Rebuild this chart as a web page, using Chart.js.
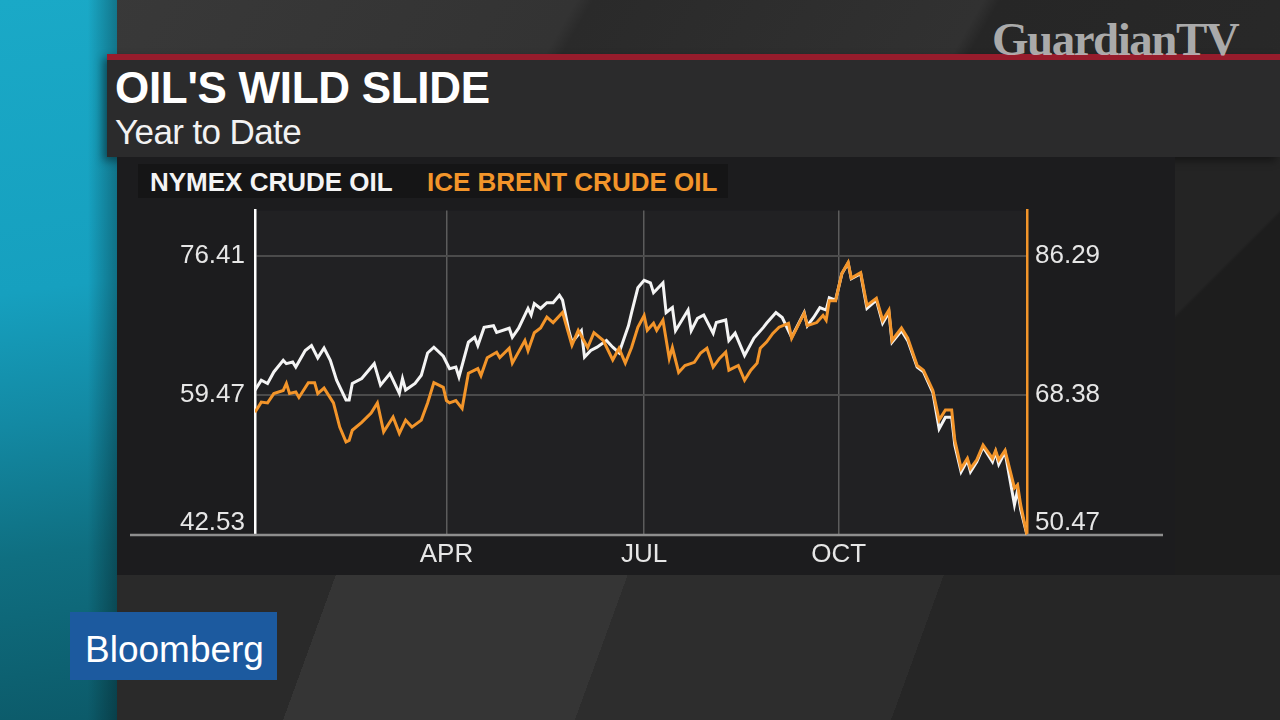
<!DOCTYPE html>
<html>
<head>
<meta charset="utf-8">
<script src="https://cdn.jsdelivr.net/npm/chart.js@4.4.1/dist/chart.umd.min.js"></script>
<style>
  body { margin: 0; width: 1280px; height: 720px; overflow: hidden; position: relative;
         background: linear-gradient(120deg, #3a3a3a 0%, #333 34%, #2a2a2a 35%, #313131 58%, #262626 59%, #2b2b2b 100%);
         font-family: "Liberation Sans", Arial, sans-serif; }
  .teal { position: absolute; left: 0; top: 0; width: 117px; height: 720px;
          background: linear-gradient(90deg, rgba(0,0,0,0) 75%, rgba(0,0,0,0.3)),
                      linear-gradient(172deg, #1aa9c7 0%, #16a0bf 40%, #1389a3 58%, #0f6f81 76%, #0c5a69 100%); }
  .rightside { position: absolute; left: 1175px; top: 157px; width: 105px; height: 418px;
               background: linear-gradient(135deg, #242424 0 30%, #1d1d1d 31% 100%); }
  .bottom { position: absolute; left: 117px; top: 575px; width: 1163px; height: 145px;
            background: linear-gradient(110deg, #2a2a2a 0 18%, #353535 18% 42%, #2d2d2d 42% 68%, #262626 68% 100%); }
  .header { position: absolute; left: 107px; top: 54px; width: 1173px; height: 97px;
            background: #2b2b2c; border-top: 6px solid #971c2c; box-shadow: -4px 4px 8px rgba(0,0,0,0.4); }
  .panel { position: absolute; left: 117px; top: 157px; width: 1058px; height: 418px; background: #1c1c1e; }
  .legendbar { position: absolute; left: 138px; top: 164px; width: 590px; height: 34px; background: #151516; }
  .title { position: absolute; left: 115px; top: 66px; font-size: 44px; line-height: 1; font-weight: bold; color: #fff; letter-spacing: -0.3px; }
  .subtitle { position: absolute; left: 115px; top: 114px; font-size: 35px; line-height: 1; color: #f2f2f2; letter-spacing: -0.6px; }
  .leg { position: absolute; top: 169px; font-size: 26px; line-height: 1; font-weight: bold; }
  .logo { position: absolute; left: 70px; top: 612px; width: 207px; height: 68px; background: #1c5a9f; }
  .logo span { position: absolute; left: 15px; top: 19px; font-size: 37px; line-height: 1; color: #fff; }
  .wm { position: absolute; left: 992px; top: 16px; font-family: "Liberation Serif", serif; font-weight: bold;
        font-size: 47px; line-height: 1; letter-spacing: -1.5px; color: rgba(195,195,195,0.85); }
  #wrap { position: absolute; left: 130px; top: 185px; width: 1040px; height: 390px; }
</style>
</head>
<body>
<div class="teal"></div>
<div class="bottom"></div>
<div class="rightside"></div>
<div class="header"></div>
<div class="panel"></div>
<div class="legendbar"></div>
<div class="title">OIL'S WILD SLIDE</div>
<div class="subtitle">Year to Date</div>
<div class="leg" style="left:150px;color:#f4f4f4">NYMEX CRUDE OIL</div>
<div class="leg" style="left:427px;color:#f3952a">ICE BRENT CRUDE OIL</div>
<div class="logo"><span>Bloomberg</span></div>
<div class="wm">GuardianTV</div>
<div id="wrap"><canvas id="myChart"></canvas></div>
<script>
// trading-day index (0 = first session of the year) and closing prices
var wtiDays = [0, 2, 4, 6, 9, 10, 12, 13, 16, 18, 20, 22, 24, 26, 29, 30, 31, 34, 38, 40, 43, 46, 47, 48, 51, 53, 55, 57, 60, 62, 64, 65, 68, 70, 71, 73, 76, 77, 81, 82, 84, 87, 88, 89, 91, 93, 95, 97, 98, 100, 101, 104, 105, 107, 109, 112, 114, 116, 119, 120, 122, 124, 126, 127, 130, 131, 133, 134, 138, 139, 141, 143, 146, 147, 150, 151, 153, 154, 156, 159, 162, 163, 166, 168, 171, 175, 176, 178, 180, 182, 183, 185, 187, 189, 190, 193, 195, 198, 200, 202, 203, 206, 208, 211, 213, 216, 218, 220, 222, 223, 225, 227, 228, 230, 232, 235, 236, 237, 239, 242, 243, 244, 246];
var wtiPrices = [60.1, 61.3, 60.9, 62.3, 63.7, 63.3, 63.5, 62.9, 64.9, 65.5, 64.0, 65.2, 63.7, 61.3, 58.9, 58.9, 60.9, 61.5, 63.3, 60.7, 62.1, 59.7, 61.5, 60.1, 60.9, 61.9, 64.6, 65.3, 64.2, 62.7, 62.9, 61.7, 65.9, 66.5, 65.5, 67.7, 67.9, 67.1, 67.6, 66.5, 67.6, 70.0, 69.2, 70.6, 70.0, 70.7, 70.7, 71.6, 71.0, 67.3, 65.9, 67.3, 64.1, 64.9, 65.3, 66.1, 65.3, 64.6, 67.9, 69.5, 72.5, 73.4, 73.1, 71.9, 73.1, 69.5, 70.1, 67.3, 69.8, 67.3, 68.8, 69.2, 67.0, 68.3, 68.6, 66.1, 67.0, 66.1, 64.3, 66.4, 67.7, 68.2, 69.5, 68.9, 66.5, 69.5, 67.9, 68.9, 70.1, 69.8, 71.3, 71.0, 74.2, 75.5, 73.6, 74.2, 70.0, 71.0, 68.2, 69.5, 65.9, 67.3, 66.1, 62.9, 62.3, 59.8, 55.4, 56.8, 56.8, 53.4, 50.2, 51.6, 50.2, 51.4, 53.2, 51.4, 52.6, 51.1, 52.6, 46.2, 48.0, 45.6, 42.53];

var brentDays = [0, 2, 4, 6, 9, 10, 11, 13, 14, 17, 19, 20, 22, 25, 27, 29, 30, 31, 34, 37, 39, 41, 44, 46, 48, 50, 53, 55, 57, 60, 61, 62, 64, 66, 68, 71, 72, 74, 77, 78, 81, 82, 86, 87, 89, 91, 93, 95, 98, 99, 101, 103, 106, 108, 111, 114, 116, 118, 120, 122, 124, 125, 127, 128, 130, 132, 133, 135, 137, 140, 142, 144, 146, 148, 150, 151, 154, 156, 158, 160, 161, 163, 165, 167, 170, 171, 175, 176, 179, 181, 182, 183, 185, 187, 189, 190, 193, 195, 198, 200, 202, 203, 206, 208, 211, 213, 216, 218, 220, 222, 223, 225, 227, 228, 230, 232, 235, 236, 237, 239, 242, 243, 244, 246];
var brentPrices = [66.2, 67.5, 67.4, 68.6, 69.0, 69.9, 68.6, 68.8, 68.1, 70.0, 70.0, 68.6, 69.3, 67.4, 64.3, 62.4, 62.6, 63.9, 64.9, 66.1, 67.4, 63.7, 65.6, 63.5, 65.2, 64.3, 65.2, 67.4, 70.0, 69.4, 67.7, 67.4, 67.7, 66.7, 71.2, 71.8, 70.9, 73.2, 73.9, 73.2, 74.4, 72.5, 75.4, 74.1, 76.4, 77.0, 78.4, 77.7, 79.0, 77.6, 74.8, 76.7, 74.5, 76.4, 75.4, 72.9, 74.4, 72.5, 74.5, 77.1, 78.6, 76.7, 77.6, 76.7, 78.0, 73.1, 74.5, 71.3, 72.2, 72.6, 73.8, 74.4, 72.0, 73.1, 73.9, 71.6, 72.2, 70.3, 71.6, 72.5, 74.4, 75.2, 76.3, 77.1, 77.6, 75.7, 78.9, 77.3, 77.7, 78.6, 78.0, 80.5, 80.5, 84.0, 85.4, 83.4, 84.1, 79.9, 80.8, 78.0, 79.3, 75.4, 77.0, 75.7, 72.2, 71.6, 69.0, 65.2, 66.5, 66.5, 62.6, 59.0, 60.3, 59.0, 60.1, 62.0, 60.3, 61.3, 60.1, 61.3, 56.5, 56.9, 54.3, 50.47];

var monthTicks = [61, 124, 186];
var monthLabels = ['APR', 'JUL', 'OCT'];
var leftTicks = [42.53, 59.47, 76.41];
var leftLabels = ['42.53', '59.47', '76.41'];
var rightTicks = [50.47, 68.38, 86.29];
var rightLabels = ['50.47', '68.38', '86.29'];

var tickFont = { family: '"Liberation Sans", Arial, sans-serif', size: 26 };

function points(days, prices) {
  return days.map(function (d, i) { return { x: d, y: prices[i] }; });
}

// bottom labels sit a little above the axis line, as on air
function setTicks(list) {
  return function (scale) {
    var lift = (scale.max - scale.min) * 12.5 / 325;
    scale.ticks = list.map(function (v, i) { return { value: i === 0 ? v + lift : v }; });
  };
}

var frame = {
  id: 'frame',
  beforeDraw: function (chart) {
    var a = chart.chartArea, c = chart.ctx;
    c.save();
    c.fillStyle = '#212123';
    c.fillRect(a.left, a.top, a.right - a.left, a.bottom - a.top);
    c.restore();
  },
  beforeDatasetsDraw: function (chart) {
    var a = chart.chartArea, c = chart.ctx;
    c.save();
    c.strokeStyle = '#8e8e8e';
    c.lineWidth = 2.5;
    c.beginPath();
    c.moveTo(0, a.bottom);
    c.lineTo(1033, a.bottom);
    c.stroke();
    c.restore();
  }
};

var ctx = document.getElementById('myChart').getContext('2d');
var myChart = new Chart(ctx, {
  type: 'line',
  data: {
    datasets: [{
      label: 'NYMEX CRUDE OIL',
      data: points(wtiDays, wtiPrices),
      yAxisID: 'left',
      borderColor: '#f4f4f4',
      borderWidth: 3,
      pointRadius: 0,
      tension: 0,
      order: 2
    }, {
      label: 'ICE BRENT CRUDE OIL',
      data: points(brentDays, brentPrices),
      yAxisID: 'right',
      borderColor: '#f3952a',
      borderWidth: 3,
      pointRadius: 0,
      tension: 0,
      order: 1
    }]
  },
  options: {
    responsive: true,
    maintainAspectRatio: false,
    animation: false,
    layout: { padding: 0 },
    plugins: { legend: { display: false }, tooltip: { enabled: false } },
    scales: {
      x: {
        type: 'linear', min: 0, max: 246,
        afterBuildTicks: function (scale) { scale.ticks = monthTicks.map(function (v) { return { value: v }; }); },
        afterFit: function (scale) { scale.height = 40; },
        grid: { color: '#5c5c5c', lineWidth: 1.5, drawTicks: false },
        border: { display: false },
        ticks: { autoSkip: false, maxRotation: 0, padding: 4, color: '#e6e6e6', font: tickFont,
                 callback: function (v, i) { return monthLabels[i]; } }
      },
      left: {
        position: 'left', min: 42.53, max: 81.86,
        afterBuildTicks: setTicks(leftTicks),
        afterFit: function (scale) { scale.width = 125; },
        grid: { color: function (c) { return c.index === 0 ? 'rgba(0,0,0,0)' : '#4b4b4b'; }, lineWidth: 2, drawTicks: false },
        border: { color: '#ffffff', width: 2.5 },
        ticks: { autoSkip: false, padding: 10, color: '#e6e6e6', font: tickFont,
                 callback: function (v, i) { return leftLabels[i]; } }
      },
      right: {
        position: 'right', min: 50.47, max: 92.05,
        afterBuildTicks: setTicks(rightTicks),
        afterFit: function (scale) { scale.width = 143; },
        grid: { drawOnChartArea: false, drawTicks: false },
        border: { color: '#f3952a', width: 2.5 },
        ticks: { autoSkip: false, padding: 8, color: '#e6e6e6', font: tickFont,
                 callback: function (v, i) { return rightLabels[i]; } }
      }
    }
  },
  plugins: [frame]
});
</script>
</body>
</html>
